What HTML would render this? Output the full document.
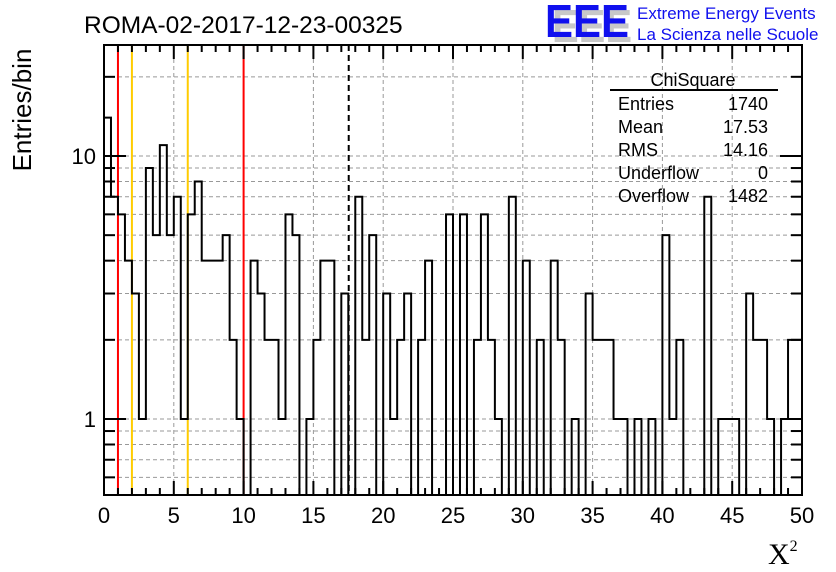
<!DOCTYPE html>
<html><head><meta charset="utf-8">
<style>
html,body{margin:0;padding:0;background:#fff;}
svg{display:block;font-family:"Liberation Sans",sans-serif;}
</style></head>
<body>
<svg id="chart" width="836" height="572" viewBox="0 0 836 572" xmlns="http://www.w3.org/2000/svg">
<rect width="836" height="572" fill="#fff"/>
<g id="grid"></g>
<g id="marks"></g>
<path id="hist" fill="none" stroke="#000" stroke-width="2"/>
<g id="axes"></g>
<text x="84" y="33" font-size="24.5">ROMA-02-2017-12-23-00325</text>
<g font-weight="bold" font-size="46">
<text x="552" y="42" fill="#c8c8c8" textLength="80" lengthAdjust="spacingAndGlyphs">EEE</text>
<text x="545" y="37" fill="#1010ee" textLength="84" lengthAdjust="spacingAndGlyphs">EEE</text>
</g>
<text x="637" y="19" font-size="17" fill="#1010ee">Extreme Energy Events</text>
<text x="637" y="40" font-size="17" fill="#1010ee">La Scienza nelle Scuole</text>
<g font-size="18">
<text x="693" y="86" text-anchor="middle">ChiSquare</text>
<line x1="610" y1="90" x2="778" y2="90" stroke="#000" stroke-width="2"/>
<text x="618" y="110">Entries</text><text x="768" y="110" text-anchor="end">1740</text>
<text x="618" y="133">Mean</text><text x="768" y="133" text-anchor="end">17.53</text>
<text x="618" y="156">RMS</text><text x="768" y="156" text-anchor="end">14.16</text>
<text x="618" y="179">Underflow</text><text x="768" y="179" text-anchor="end">0</text>
<text x="618" y="202">Overflow</text><text x="768" y="202" text-anchor="end">1482</text>
</g>
<text transform="translate(31,110) rotate(-90)" text-anchor="middle" font-size="26">Entries/bin</text>
<text x="768" y="564" font-size="30" font-family="Liberation Serif,serif">X<tspan font-size="16" dy="-13">2</tspan></text>
</svg>
<script>
const counts = [14,7,6,4,3,1,9,5,11,5,7,1,6,8,4,4,4,5,2,1,
0,4,3,2,2,1,6,5,0,1,2,4,4,0,3,0,7,2,5,0,
3,1,2,3,0,2,4,0,0,6,0,6,0,2,6,2,1,0,7,0,
4,0,2,0,4,2,0,1,0,3,2,2,2,1,1,0,1,0,1,0,
5,1,2,0,0,0,7,0,1,1,1,0,3,2,2,1,0,1,2,2];
const binWidth = [0.5];
const xTicks = [0,5,10,15,20,25,30,35,40,45,50];
const yTickLabels = [1,10];
const redLines = [1,10];
const yellowLines = [2,6];
const meanLine = [17.53];

const L=104,R=802,T=45,B=495;
const xMin=0,xMax=50;
const Y1=419,Y10=156;
function xs(v){return L+(v-xMin)/(xMax-xMin)*(R-L);}
function ys(v){ if(v<=0) return B; return Math.max(T,Math.min(B,Y1-(Y1-Y10)*Math.log10(v))); }
const NS="http://www.w3.org/2000/svg";
function mk(tag,attrs,parent){const e=document.createElementNS(NS,tag);for(const k in attrs)e.setAttribute(k,attrs[k]);parent.appendChild(e);return e;}

const grid=document.getElementById('grid');
const yGridVals=[];
for(const d of [0.1,1,10]) for(let m=1;m<=9;m++){const v=m*d; if(ys(v)>T && ys(v)<B) yGridVals.push(v);}
yGridVals.forEach(v=>{
  const l=mk('line',{x1:L,x2:R,y1:ys(v),y2:ys(v),stroke:'#999','stroke-dasharray':'4,3','stroke-width':1},grid);
  
  
});
xTicks.forEach(v=>{
  if(v===xMin||v===xMax) return;
  const l=mk('line',{x1:xs(v),x2:xs(v),y1:T,y2:B,stroke:'#999','stroke-dasharray':'4,3','stroke-width':1},grid);
  
  
});

let d='M'+xs(0)+','+B;
counts.forEach((c,i)=>{
  const x0=xs(i*binWidth[0]),x1=xs((i+1)*binWidth[0]),y=ys(c);
  d+=' L'+x0+','+y+' L'+x1+','+y;
});
d+=' L'+xs(counts.length*binWidth[0])+','+B;
document.getElementById('hist').setAttribute('d',d);

const marks=document.getElementById('marks');
redLines.forEach(v=>{
  const l=mk('line',{x1:xs(v),x2:xs(v),y1:T,y2:B,stroke:'#f00','stroke-width':2},marks);
  
  
});
yellowLines.forEach(v=>{
  const l=mk('line',{x1:xs(v),x2:xs(v),y1:T,y2:B,stroke:'#fc0','stroke-width':2},marks);
  
  
});
meanLine.forEach(v=>{
  const l=mk('line',{x1:xs(v),x2:xs(v),y1:T,y2:B,stroke:'#000','stroke-width':2,'stroke-dasharray':'6,4'},marks);
  
  
});

const ax=document.getElementById('axes');
const fr=mk('rect',{x:L,y:T,width:R-L,height:B-T,fill:'none',stroke:'#000','stroke-width':2},ax);


for(let v=xMin;v<=xMax;v++){
  const major=v%5===0, len=major?14:7;
  mk('line',{x1:xs(v),x2:xs(v),y1:B,y2:B-len,stroke:'#000','stroke-width':2},ax);
  mk('line',{x1:xs(v),x2:xs(v),y1:T,y2:T+len,stroke:'#000','stroke-width':2},ax);
}
xTicks.forEach(v=>{
  const t=mk('text',{x:xs(v),y:523,'text-anchor':'middle','font-size':22},ax);
  t.textContent=v;
  
  
});
yGridVals.forEach(v=>{
  const major=yTickLabels.includes(v), len=major?22:11;
  mk('line',{x1:L,x2:L+len,y1:ys(v),y2:ys(v),stroke:'#000','stroke-width':2},ax);
  mk('line',{x1:R,x2:R-len,y1:ys(v),y2:ys(v),stroke:'#000','stroke-width':2},ax);
});
yTickLabels.forEach(v=>{
  const t=mk('text',{x:96,y:ys(v)+8,'text-anchor':'end','font-size':22},ax);
  t.textContent=v;
  
  
});
</script>
</body></html>
